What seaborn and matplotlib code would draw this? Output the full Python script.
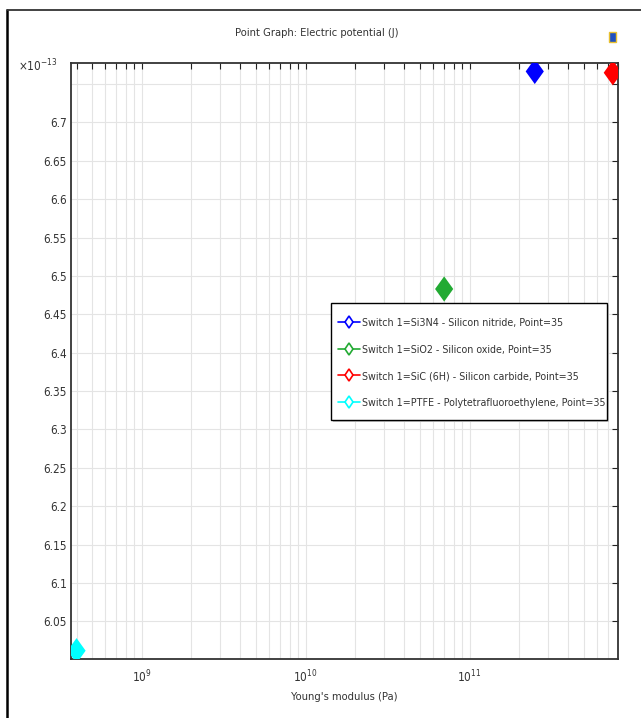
import numpy as np
import pandas as pd
import matplotlib
matplotlib.use("Agg")
import matplotlib.pyplot as plt
from matplotlib.lines import Line2D
from matplotlib.patches import Rectangle
import seaborn as sns

# data (potential in units of 1e-13 J)
materials = ["Si3N4", "SiO2", "SiC (6H)", "PTFE"]
legend_labels = [
    "Switch 1=Si3N4 - Silicon nitride, Point=35",
    "Switch 1=SiO2 - Silicon oxide, Point=35",
    "Switch 1=SiC (6H) - Silicon carbide, Point=35",
    "Switch 1=PTFE - Polytetrafluoroethylene, Point=35",
]
youngs_modulus = [2.5e11, 7.0e10, 7.48e11, 4.0e8]
potential_e13 = [6.7664, 6.4830, 6.7647, 6.0118]
colors = ["#0000ff", "#22aa33", "#ff0000", "#00ffff"]

y_ticks = [6.05, 6.1, 6.15, 6.2, 6.25, 6.3, 6.35, 6.4, 6.45, 6.5, 6.55, 6.6, 6.65, 6.7, 6.75]
y_ticklabels = ["6.05", "6.1", "6.15", "6.2", "6.25", "6.3", "6.35", "6.4", "6.45",
                "6.5", "6.55", "6.6", "6.65", "6.7", ""]

df = pd.DataFrame({"material": materials, "E": youngs_modulus, "V": potential_e13})

sns.set_style("white")
plt.rcParams["font.family"] = ["DejaVu Sans"]
plt.rcParams["font.stretch"] = "condensed"
plt.rcParams["mathtext.fontset"] = "dejavusans"

W, H = 641, 718
txt = "#333333"
fig = plt.figure(figsize=(W / 100, H / 100), dpi=100)
ax = fig.add_axes([71 / W, 1 - 659 / H, (618 - 71) / W, (659 - 63) / H])

# diamond marker a bit wider than matplotlib's thin diamond
diamond = [(0, 1), (0.72, 0), (0, -1), (-0.72, 0), (0, 1)]
sns.scatterplot(data=df, x="E", y="V", hue="material", palette=dict(zip(materials, colors)),
                marker=diamond, s=330, linewidth=0, legend=False, ax=ax, zorder=3)

ax.set_xscale("log")
ax.set_xlim(3.70e8, 8.05e11)
ax.set_ylim(6.001, 6.7774)
ax.set_yticks(y_ticks)
ax.set_yticklabels(y_ticklabels)
ax.set_xticks([1e9, 1e10, 1e11])
ax.set_xticklabels(["$10^{9}$", "$10^{10}$", "$10^{11}$"])

ax.grid(True, which="major", color="#e4e4e4", linewidth=0.8)
ax.grid(True, which="minor", axis="x", color="#e4e4e4", linewidth=0.8)
ax.tick_params(which="both", direction="in", top=True, right=True, length=4,
               width=0.8, color="#222222", labelsize=8.5, labelcolor=txt)
ax.tick_params(axis="y", pad=3)
ax.tick_params(axis="x", pad=7)
for sp in ax.spines.values():
    sp.set_color(txt)
    sp.set_linewidth(1.3)

ax.set_xlabel("Young's modulus (Pa)", fontsize=8, color=txt, labelpad=5)
ax.set_ylabel("")
fig.text(317 / W, 1 - 33 / H, "Point Graph: Electric potential (J)", ha="center", va="center",
         fontsize=8, color=txt)
fig.text(57 / W, 1 - 71 / H, "\u00d710$^{-13}$", ha="right", va="baseline",
         fontsize=8.5, color=txt)

# legend box drawn by hand so the padding can differ horizontally and vertically
fig.add_artist(Rectangle((333 / W, 1 - 422 / H), 276 / W, 117 / H, facecolor="#c8c8c8",
                         edgecolor="none", transform=fig.transFigure, zorder=4))
fig.add_artist(Rectangle((331 / W, 1 - 420 / H), 276 / W, 117 / H, facecolor="white",
                         edgecolor="black", lw=1.0, transform=fig.transFigure, zorder=5))
handles = [Line2D([], [], color=c, lw=1.2, marker="d", markersize=6,
                  markerfacecolor="white", markeredgewidth=1.2) for c in colors]
leg = fig.legend(handles, legend_labels, loc="upper left",
                 bbox_to_anchor=(338 / W, 1 - 318 / H), bbox_transform=fig.transFigure,
                 borderaxespad=0, borderpad=0, fontsize=7.7, frameon=False,
                 handlelength=2.05, handletextpad=0.15, labelspacing=1.55)
leg.set_zorder(6)
for t in leg.get_texts():
    t.set_color(txt)

# outer window frame and the small icon in the corner
fig.add_artist(Line2D([6.5 / W, 6.5 / W], [0, 1 - 10 / H], color="black", lw=1.8,
                      transform=fig.transFigure))
fig.add_artist(Line2D([6.5 / W, 1], [1 - 10 / H, 1 - 10 / H], color=txt, lw=1.3,
                      transform=fig.transFigure))
fig.add_artist(Rectangle((609 / W, 1 - 42 / H), 7 / W, 10 / H, facecolor="#1f4fbf",
                         edgecolor="#e8c030", lw=1.0, transform=fig.transFigure))

fig.savefig("out.png", dpi=100)
